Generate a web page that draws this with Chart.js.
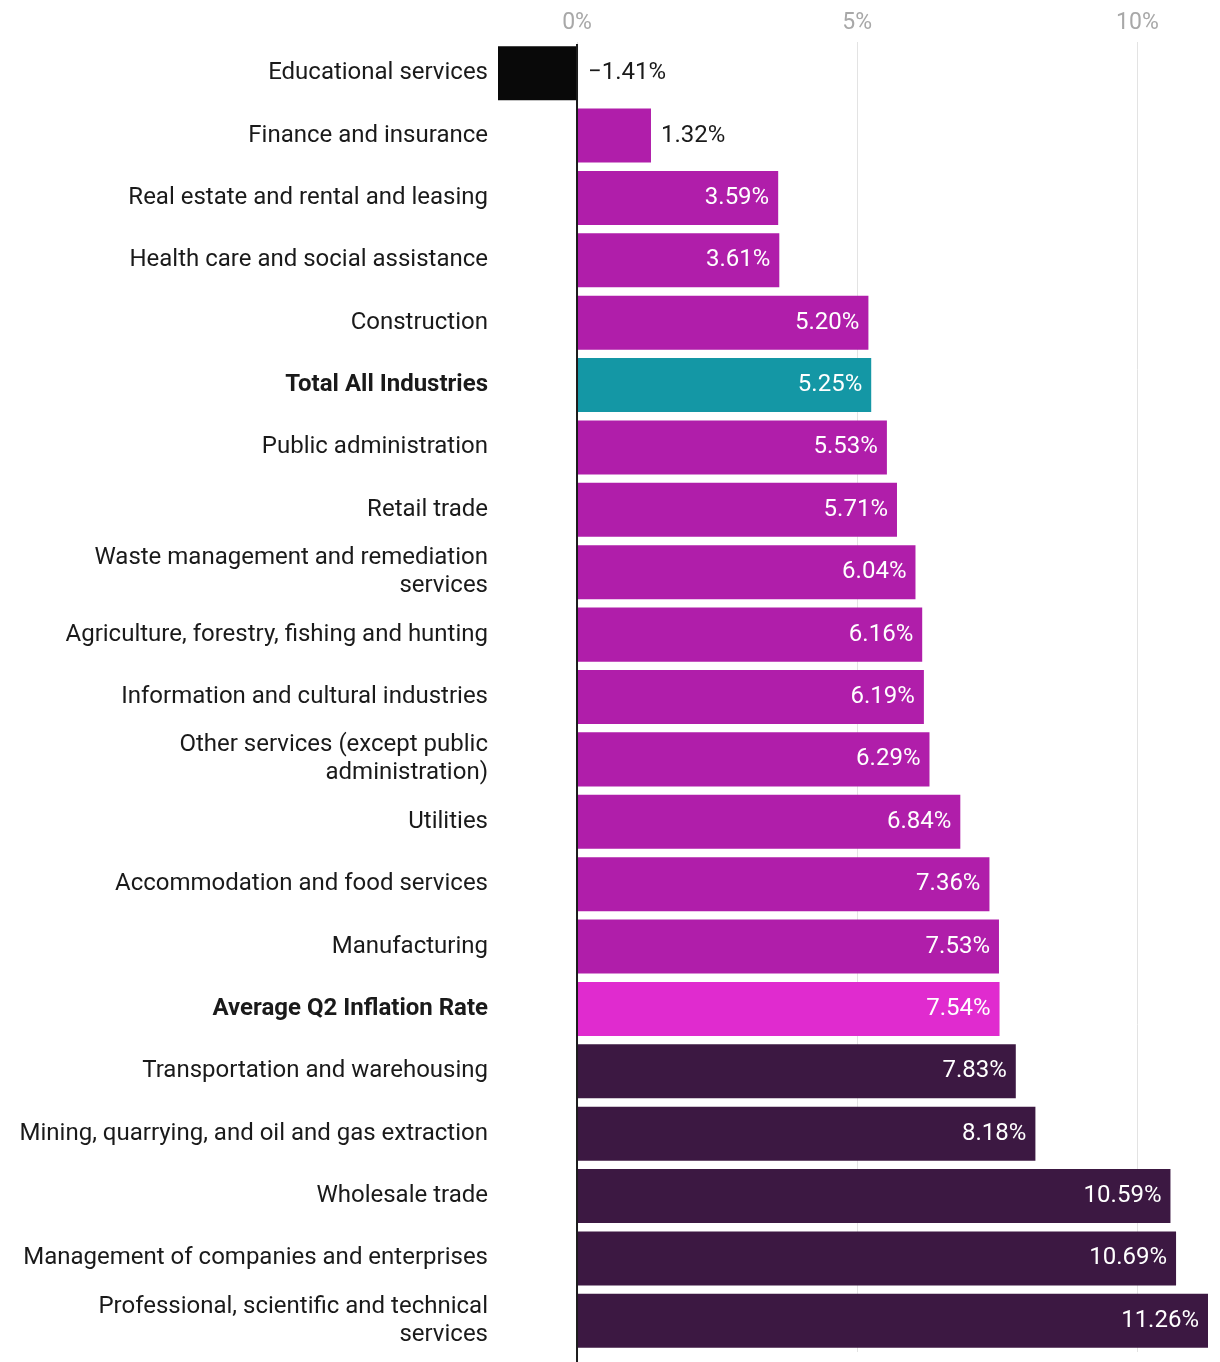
<!DOCTYPE html>
<html>
<head>
<meta charset="utf-8">
<script src="https://cdn.jsdelivr.net/npm/chart.js@4"></script>
<style>
  body { margin: 0; background: #fff; }
  #wrap { width: 1220px; height: 1362px; position: relative; }
</style>
</head>
<body>
<div id="wrap"><canvas id="myChart"></canvas></div>
<script>
const categories = [
  "Educational services",
  "Finance and insurance",
  "Real estate and rental and leasing",
  "Health care and social assistance",
  "Construction",
  "Total All Industries",
  "Public administration",
  "Retail trade",
  ["Waste management and remediation", "services"],
  "Agriculture, forestry, fishing and hunting",
  "Information and cultural industries",
  ["Other services (except public", "administration)"],
  "Utilities",
  "Accommodation and food services",
  "Manufacturing",
  "Average Q2 Inflation Rate",
  "Transportation and warehousing",
  "Mining, quarrying, and oil and gas extraction",
  "Wholesale trade",
  "Management of companies and enterprises",
  ["Professional, scientific and technical", "services"]
]
const values = [-1.41, 1.32, 3.59, 3.61, 5.20, 5.25, 5.53, 5.71, 6.04, 6.16, 6.19, 6.29, 6.84, 7.36, 7.53, 7.54, 7.83, 8.18, 10.59, 10.69, 11.26]
const tickValues = [0, 5, 10]

const totalLabel = "Total All Industries"
const avgLabel = "Average Q2 Inflation Rate"
const avgValue = values[categories.indexOf(avgLabel)]

function barColor(i){
  let name = categories[i]
  if (name == totalLabel) return "#1497A5"
  if (name == avgLabel) return "#E02BCF"
  if (values[i] < 0) return "#090909"
  if (values[i] > avgValue) return "#3C1842"
  return "#B01EAA"
}

const labelPlugin = {
  id: "valueLabels",
  afterDatasetsDraw(chart){
    const ctx = chart.ctx
    const x0 = chart.scales.x.getPixelForValue(0)
    ctx.save()
    // zero line over the bars
    ctx.strokeStyle = "#1c1c1c"
    ctx.lineWidth = 2
    ctx.beginPath()
    ctx.moveTo(x0, chart.chartArea.top + 2)
    ctx.lineTo(x0, chart.height)
    ctx.stroke()

    ctx.font = "24px Roboto"
    ctx.textBaseline = "middle"
    chart.getDatasetMeta(0).data.forEach((bar, i) => {
      let v = values[i]
      let txt = (v < 0 ? "\u2212" : "") + Math.abs(v).toFixed(2) + "%"
      if (v < 2) {
        ctx.fillStyle = "#1a1a1a"
        ctx.textAlign = "left"
        ctx.fillText(txt, v < 0 ? x0 + 11 : bar.x + 10, bar.y)
      } else {
        ctx.fillStyle = "#ffffff"
        ctx.textAlign = "right"
        ctx.fillText(txt, bar.x - 9, bar.y)
      }
    })
    ctx.restore()
  }
}

const ctx = document.getElementById("myChart")
new Chart(ctx, {
  type: "bar",
  data: {
    labels: categories,
    datasets: [{
      data: values,
      backgroundColor: values.map((v, i) => barColor(i)),
      borderWidth: 0,
      categoryPercentage: 1,
      barPercentage: 0.866
    }]
  },
  options: {
    indexAxis: "y",
    responsive: true,
    maintainAspectRatio: false,
    animation: false,
    layout: { padding: { left: 0, right: 12, top: 0, bottom: 10 } },
    plugins: {
      legend: { display: false },
      tooltip: { enabled: false }
    },
    scales: {
      x: {
        position: "top",
        min: -1.41,
        max: 11.26,
        afterBuildTicks: s => { s.ticks = tickValues.map(v => ({ value: v })) },
        afterFit: s => { s.height = 42; s.paddingLeft = 0; s.paddingRight = 0 },
        grid: { color: "#e3e3e3", lineWidth: 1, drawTicks: false },
        border: { display: false },
        ticks: {
          padding: 5,
          color: "#a8a8a8",
          font: { family: "Roboto", size: 23 },
          callback: v => v + "%"
        }
      },
      y: {
        afterFit: s => { s.width = 498; s.paddingTop = 0; s.paddingBottom = 0 },
        grid: { display: false, drawTicks: false },
        border: { display: false },
        ticks: {
          padding: 10,
          color: "#1a1a1a",
          autoSkip: false,
          font: c => {
            let name = categories[c.index]
            let bold = name == totalLabel || name == avgLabel
            return { family: "Roboto", size: 24, weight: bold ? "bold" : "normal", lineHeight: 1.17 }
          }
        }
      }
    }
  },
  plugins: [labelPlugin]
})
</script>
</body>
</html>
